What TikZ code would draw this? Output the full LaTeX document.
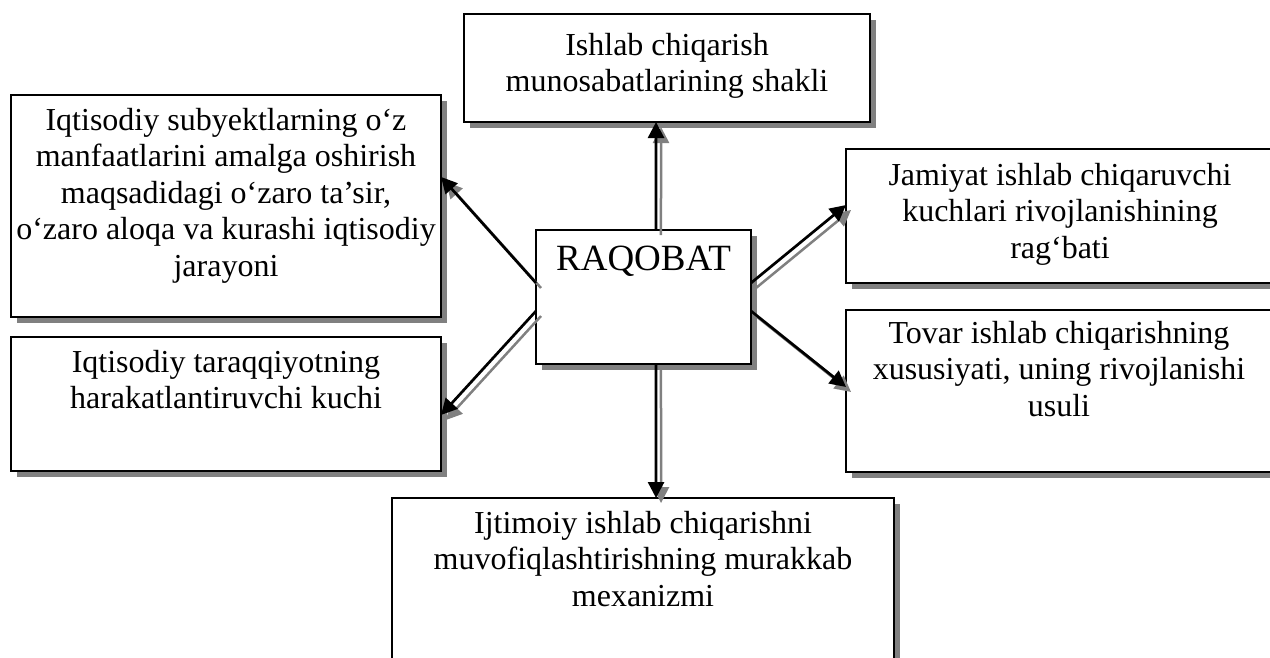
\documentclass[tikz,border=0pt]{standalone}
\usepackage{fontspec}
\setmainfont{Liberation Serif}
\usetikzlibrary{arrows.meta,shadows,calc}
\definecolor{shadowgray}{RGB}{128,128,128}
\tikzset{
  box/.style={draw=black, line width=2pt, fill=white, rectangle, inner sep=0pt, outer sep=0pt, anchor=north west,
    drop shadow={shadow xshift=6pt, shadow yshift=-6pt, fill=shadowgray, opacity=1}},
  txt/.style={anchor=north, inner sep=0pt, outer sep=0pt, align=center, font=\fontsize{32}{36.5}\selectfont},
  bigtxt/.style={anchor=north, inner sep=0pt, outer sep=0pt, align=center, font=\fontsize{37}{42}\selectfont},
  blackarrow/.style={draw=black, line width=2.7pt, -{Triangle[length=16pt,width=16pt]}},
  grayarrow/.style={draw=shadowgray, line width=2.5pt, -{Triangle[length=16pt,width=16pt]}, transform canvas={shift={(5,5)}}},
}
\newcommand{\fl}{\rule{0pt}{30pt}}
\begin{document}
\begin{tikzpicture}[x=1pt,y=-1pt]
\useasboundingbox (0,0) rectangle (1270,657);
\clip (0,0) rectangle (1270,657);
% boxes
\node[box, minimum width=406pt, minimum height=108pt] (t) at (464,14) {};
\node[box, minimum width=430pt, minimum height=222pt] (lt) at (11,95) {};
\node[box, minimum width=430pt, minimum height=134pt] (lb) at (11,337) {};
\node[box, minimum width=429pt, minimum height=134pt] (rt) at (846,149) {};
\node[box, minimum width=429pt, minimum height=162pt] (rb) at (846,310) {};
\node[box, minimum width=502pt, minimum height=220pt] (bb) at (392,498) {};
\node[box, minimum width=215pt, minimum height=134pt] (c) at (536,230) {};
% texts
\node[txt] (tT) at (667,25) {\fl Ishlab chiqarish\\munosabatlarining shakli};
\node[txt] (ltT) at (226,100) {\fl Iqtisodiy subyektlarning o‘z\\manfaatlarini amalga oshirish\\maqsadidagi o‘zaro ta’sir,\\o‘zaro aloqa va kurashi iqtisodiy\\jarayoni};
\node[txt] (lbT) at (226,342) {\fl Iqtisodiy taraqqiyotning\\harakatlantiruvchi kuchi};
\node[txt] (rtT) at (1060,155) {\fl Jamiyat ishlab chiqaruvchi\\kuchlari rivojlanishining\\rag‘bati};
\node[txt] (rbT) at (1059,313) {\fl Tovar ishlab chiqarishning\\xususiyati, uning rivojlanishi\\usuli};
\node[txt] (bbT) at (643,503) {\fl Ijtimoiy ishlab chiqarishni\\muvofiqlashtirishning murakkab\\mexanizmi};
\node[bigtxt] (cT) at (643.5,235) {\rule{0pt}{35pt}RAQOBAT};
% endpoint coordinates
\coordinate (cN) at ($(c.north west)!0.558!(c.north east)$);
\coordinate (cS) at ($(c.south west)!0.558!(c.south east)$);
\coordinate (cW1) at ($(c.north west)!0.3955!(c.south west)$);
\coordinate (cW2) at ($(c.north west)!0.6045!(c.south west)$);
\coordinate (cE1) at ($(c.north east)!0.3955!(c.south east)$);
\coordinate (cE2) at ($(c.north east)!0.6045!(c.south east)$);
\coordinate (tS) at ($(t.south west)!0.473!(t.south east)$);
\coordinate (bbN) at ($(bb.north west)!0.526!(bb.north east)$);
\coordinate (ltE) at ($(lt.north east)!0.369!(lt.south east)$);
\coordinate (lbE) at ($(lb.north east)!0.582!(lb.south east)$);
\coordinate (rtW) at ($(rt.north west)!0.418!(rt.south west)$);
\coordinate (rbW) at ($(rb.north west)!0.475!(rb.south west)$);
% shadow arrows
\draw[grayarrow] (cN) -- (tS);
\draw[grayarrow] (cS) -- (bbN);
\draw[grayarrow] (cW1) -- (ltE);
\draw[grayarrow] (cW2) -- (lbE);
\draw[grayarrow] (cE1) -- (rtW);
\draw[grayarrow] (cE2) -- (rbW);
% black arrows
\draw[blackarrow] (cN) -- (tS);
\draw[blackarrow] (cS) -- (bbN);
\draw[blackarrow] (cW1) -- (ltE);
\draw[blackarrow] (cW2) -- (lbE);
\draw[blackarrow] (cE1) -- (rtW);
\draw[blackarrow] (cE2) -- (rbW);
\end{tikzpicture}
\end{document}
